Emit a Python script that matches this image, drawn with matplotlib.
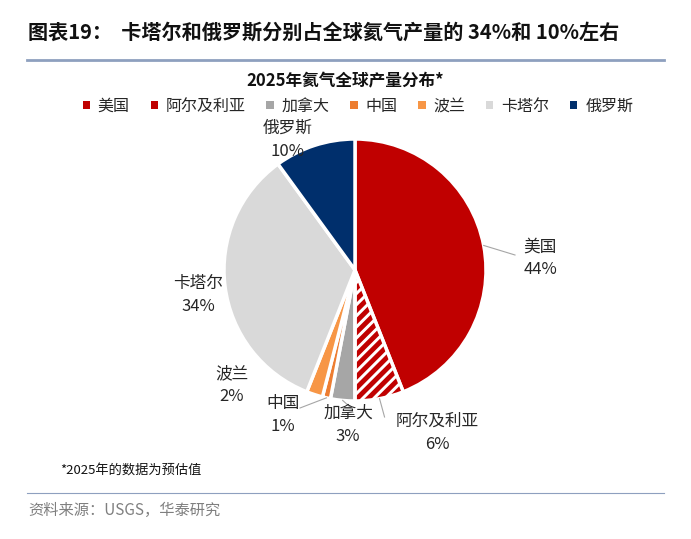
import matplotlib
matplotlib.use("Agg")
import matplotlib.pyplot as plt
from matplotlib.patches import Patch, Wedge
import matplotlib.lines as mlines
import numpy as np

plt.rcParams['font.family'] = ['Noto Sans CJK SC', 'DejaVu Sans']
plt.rcParams['hatch.linewidth'] = 3.5

countries = ['美国', '阿尔及利亚', '加拿大', '中国', '波兰', '卡塔尔', '俄罗斯']
shares = [44, 6, 3, 1, 2, 34, 10]
colors = ['#c00000', '#ffffff', '#a6a6a6', '#ed7d31', '#f79646', '#d9d9d9', '#002f6c']
# label text positions (pixels from top-left) and whether a leader line is drawn
label_pos = [(540, 258), (437, 433), (348, 425), (283, 415), (232, 385), (198, 295), (288, 140)]
leader = [True, True, True, True, False, False, False]

W, H = 691, 539
fig = plt.figure(figsize=(W/100, H/100), dpi=100)
cx, cy, R = 355, 270, 131
S = 140
ax = fig.add_axes([(cx-S)/W, (H-cy-S)/H, 2*S/W, 2*S/H])

wedges, _ = ax.pie(shares, colors=colors, startangle=90, counterclock=False,
                   radius=R, wedgeprops=dict(edgecolor='white', linewidth=2.5))
ax.set_xlim(-S, S); ax.set_ylim(-S, S); ax.set_aspect('equal'); ax.axis('off')
aw = wedges[1]
aw.set_hatch('///')
aw.set_edgecolor('#c00000')
aw.set_linewidth(0)
ax.add_patch(Wedge(aw.center, aw.r, aw.theta1, aw.theta2, facecolor='none', edgecolor='white', linewidth=2.5))

for w, name, val, (tx, ty), ld in zip(wedges, countries, shares, label_pos, leader):
    fig.text(tx/W, 1-ty/H, f"{name}\n{val}%", ha='center', va='center', fontsize=12,
             color='#262626', linespacing=1.45)
    if ld:
        ang = np.deg2rad((w.theta1 + w.theta2)/2)
        ex, ey = cx + R*np.cos(ang), cy - R*np.sin(ang)
        if name == '美国':
            lx, ly = 515, 255
        elif name == '阿尔及利亚':
            lx, ly = ex+5, 417
        elif name == '加拿大':
            lx, ly = 350, 407
        else:
            lx, ly = 300, 408
        fig.add_artist(mlines.Line2D([ex/W, lx/W], [1-ey/H, 1-ly/H], color='#a6a6a6', lw=0.8))

fig.text(28/W, 1-32/H, '图表19：  卡塔尔和俄罗斯分别占全球氦气产量的 34%和 10%左右',
         fontsize=14.5, fontweight='bold', va='center', ha='left', color='#111111')
fig.add_artist(mlines.Line2D([27/W, 664/W], [1-60/H]*2, color='#8ea0bf', lw=2))
fig.text(345/W, 1-81/H, '2025年氦气全球产量分布*', fontsize=12, fontweight='bold',
         ha='center', va='center', color='#111111')

handles = [Patch(facecolor=c if c != '#ffffff' else '#c00000', edgecolor='none') for c in colors]
leg = fig.legend(handles, countries, loc='center', bbox_to_anchor=(358/W, 1-106/H), ncol=7,
                 frameon=False, fontsize=11.5, handlelength=0.45, handleheight=0.45,
                 handletextpad=0.5, columnspacing=1.3)
for t in leg.get_texts():
    t.set_color('#262626')

fig.text(60/W, 1-470/H, '*2025年的数据为预估值', fontsize=9.5, va='center', color='#111111')
fig.add_artist(mlines.Line2D([27/W, 664/W], [1-493/H]*2, color='#8ea0bf', lw=0.8))
fig.text(28/W, 1-510/H, '资料来源：USGS，华泰研究', fontsize=11, va='center', color='#7f7f7f')

fig.savefig('out.png', dpi=100)
